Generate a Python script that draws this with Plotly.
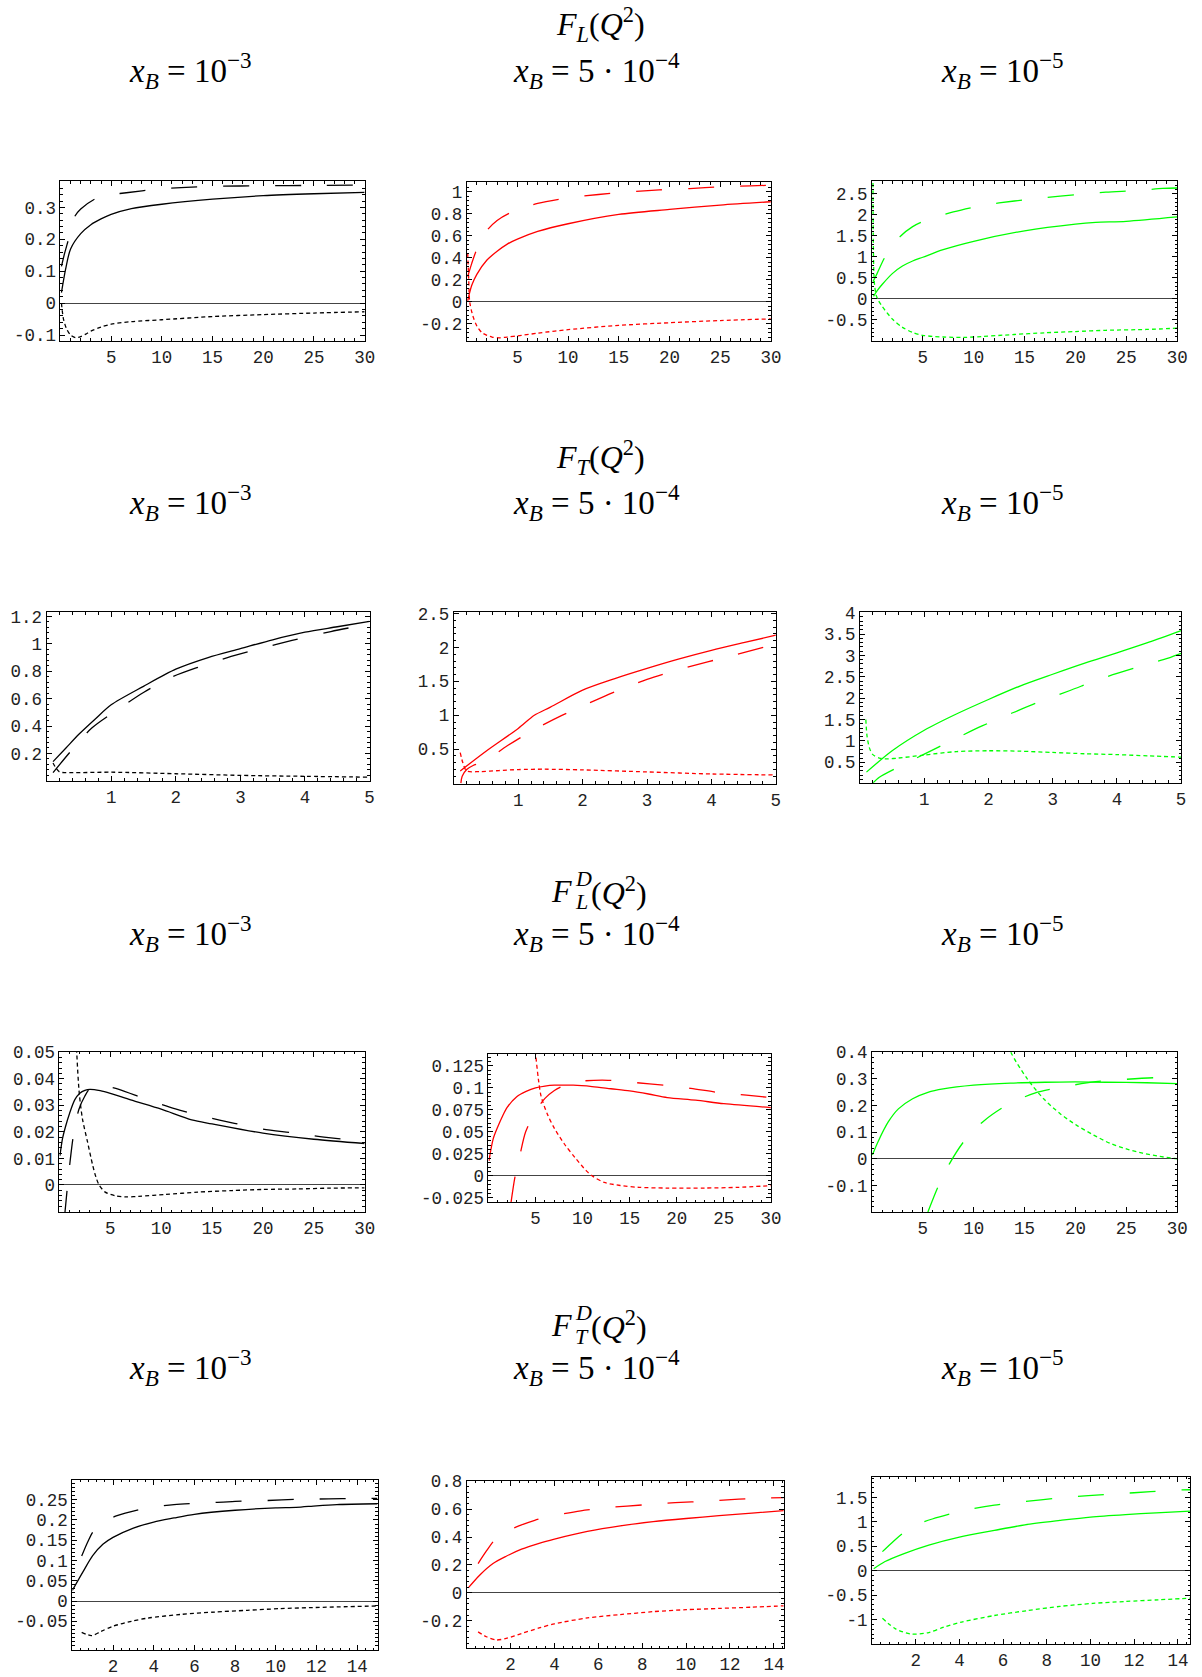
import plotly.graph_objects as go

W, H = 1202, 1677
BLACK, RED, GREEN = "#000000", "#FF0000", "#00FF00"

# ================= F_L(Q^2) =================
# x_B = 1e-3
FL_a_solid_x = [0.1, 0.5, 1, 2, 3, 4, 5, 7, 10, 15, 20, 25, 30]
FL_a_solid_y = [0.033, 0.105, 0.17, 0.218, 0.246, 0.264, 0.278, 0.296, 0.31, 0.326, 0.337, 0.343, 0.347]
FL_a_long_x = [0.1, 0.4, 0.75, 1.0, 1.4, 2, 3.5, 5, 6.5, 9.4, 12.4, 15, 20, 25, 30]
FL_a_long_y = [0.115, 0.155, 0.195, 0.224, 0.271, 0.295, 0.328, 0.34, 0.346, 0.357, 0.363, 0.366, 0.368, 0.369, 0.37]
FL_a_short_x = [0.1, 0.3, 0.6, 1, 1.5, 2, 2.5, 3, 4, 5, 7, 10, 15, 20, 25, 30]
FL_a_short_y = [0.0, -0.05, -0.08, -0.10, -0.108, -0.105, -0.097, -0.088, -0.075, -0.066, -0.058, -0.052, -0.042, -0.036, -0.031, -0.027]
# x_B = 5e-4
FL_b_solid_x = [0.1, 0.5, 1, 2, 3, 4, 5, 7, 10, 15, 20, 25, 30]
FL_b_solid_y = [0.01, 0.15, 0.25, 0.38, 0.46, 0.525, 0.57, 0.64, 0.71, 0.795, 0.84, 0.88, 0.91]
FL_b_long_x = [0.1, 0.5, 0.9, 1.5, 2, 3, 4.3, 5.5, 7, 10, 13, 16, 19, 22, 25, 28, 30]
FL_b_long_y = [0.23, 0.35, 0.455, 0.57, 0.65, 0.74, 0.81, 0.85, 0.895, 0.946, 0.976, 1.0, 1.018, 1.03, 1.045, 1.054, 1.06]
FL_b_short_x = [0.1, 0.2, 0.3, 0.6, 1, 1.5, 2, 2.5, 3.2, 4, 5, 7, 10, 15, 20, 25, 30]
FL_b_short_y = [0.44, 0.2, 0.0, -0.125, -0.22, -0.28, -0.305, -0.32, -0.327, -0.32, -0.31, -0.285, -0.253, -0.214, -0.19, -0.17, -0.155]
# x_B = 1e-5
FL_c_solid_x = [0.15, 0.5, 1, 2, 3, 4, 5, 7, 10, 15, 20, 22, 25, 30]
FL_c_solid_y = [0.06, 0.19, 0.34, 0.6, 0.78, 0.9, 0.99, 1.17, 1.37, 1.62, 1.78, 1.82, 1.845, 1.95]
FL_c_long_x = [0.1, 0.5, 1.2, 2, 2.8, 4, 5.2, 8, 11, 14, 17, 20, 23, 26, 28.6, 30]
FL_c_long_y = [0.41, 0.6, 0.96, 1.25, 1.49, 1.72, 1.86, 2.07, 2.23, 2.33, 2.41, 2.48, 2.54, 2.58, 2.63, 2.64]
FL_c_short_x = [0.1, 0.13, 0.18, 0.25, 0.4, 0.55, 1, 2, 3, 4, 5, 7, 9, 10, 14, 17, 20, 23, 27, 30]
FL_c_short_y = [2.76, 1.5, 0.7, 0.35, 0.1, 0.0, -0.18, -0.48, -0.68, -0.8, -0.87, -0.91, -0.92, -0.91, -0.85, -0.81, -0.78, -0.75, -0.73, -0.70]

# ================= F_T(Q^2) =================
FT_a_solid_x = [0.1, 0.3, 0.5, 0.75, 1, 1.5, 2, 2.5, 3, 3.5, 4, 4.5, 5]
FT_a_solid_y = [0.14, 0.24, 0.34, 0.45, 0.555, 0.69, 0.815, 0.9, 0.965, 1.03, 1.085, 1.125, 1.165]
FT_a_long_x = [0.1, 0.4, 0.7, 1.1, 1.5, 1.9, 2.35, 2.8, 3.3, 3.8, 4.4, 5]
FT_a_long_y = [0.06, 0.23, 0.385, 0.52, 0.645, 0.75, 0.83, 0.9, 0.965, 1.025, 1.09, 1.145]
FT_a_short_x = [0.1, 0.15, 0.2, 0.3, 1, 2, 3, 4, 5]
FT_a_short_y = [0.13, 0.09, 0.065, 0.06, 0.063, 0.052, 0.04, 0.033, 0.027]

FT_b_solid_x = [0.1, 0.5, 1, 1.25, 1.5, 2, 2.5, 3, 3.5, 4, 4.5, 5]
FT_b_solid_y = [0.18, 0.47, 0.806, 1.0, 1.12, 1.37, 1.54, 1.69, 1.83, 1.956, 2.07, 2.18]
FT_b_long_x = [0.11, 0.13, 0.2, 0.3, 0.45, 0.83, 1.23, 1.67, 2.1, 2.56, 3.0, 3.5, 4.4, 5]
FT_b_long_y = [0.0, 0.1, 0.2, 0.26, 0.306, 0.55, 0.78, 0.995, 1.18, 1.37, 1.53, 1.675, 1.9, 2.05]
FT_b_short_x = [0.1, 0.14, 0.2, 0.4, 0.7, 1, 1.4, 2, 3, 4, 5]
FT_b_short_y = [0.45, 0.3, 0.18, 0.17, 0.185, 0.2, 0.205, 0.195, 0.165, 0.135, 0.12]

FT_c_solid_x = [0.1, 0.5, 1, 1.5, 2, 2.5, 3, 3.5, 4, 4.5, 5]
FT_c_solid_y = [0.27, 0.77, 1.25, 1.63, 1.97, 2.29, 2.56, 2.82, 3.06, 3.31, 3.58]
FT_c_long_x = [0.19, 0.3, 0.59, 1.0, 1.47, 1.9, 2.35, 2.8, 3.27, 3.74, 4.33, 4.8, 5]
FT_c_long_y = [0.0, 0.15, 0.385, 0.69, 1.04, 1.35, 1.64, 1.92, 2.18, 2.45, 2.73, 2.94, 3.05]
FT_c_short_x = [0.09, 0.11, 0.15, 0.2, 0.3, 0.4, 0.6, 1, 1.5, 2, 2.5, 3, 3.5, 4, 4.5, 5]
FT_c_short_y = [1.5, 1.1, 0.82, 0.68, 0.6, 0.58, 0.6, 0.67, 0.75, 0.77, 0.76, 0.73, 0.7, 0.68, 0.65, 0.62]

# ================= F_L^D(Q^2) =================
FLD_a_solid_x = [0.05, 0.3, 0.6, 1, 1.5, 2, 2.5, 3, 4, 5, 7, 10, 13, 15, 20, 25, 30]
FLD_a_solid_y = [0.011, 0.0174, 0.022, 0.027, 0.032, 0.0345, 0.0356, 0.036, 0.0355, 0.0345, 0.032, 0.0285, 0.0245, 0.023, 0.0195, 0.0172, 0.0156]
FLD_a_long_x = [0.5, 0.8, 1.05, 1.37, 1.9, 2.5, 3.1, 4, 5, 5.85, 8.7, 11.4, 14.3, 17.2, 20, 23, 26, 29, 30]
FLD_a_long_y = [-0.012, 0.0, 0.009, 0.0186, 0.0283, 0.0335, 0.0367, 0.0372, 0.0368, 0.036, 0.032, 0.0286, 0.0257, 0.0232, 0.021, 0.0196, 0.018, 0.0168, 0.0165]
FLD_a_short_x = [1.5, 1.7, 1.95, 2.27, 2.76, 3.25, 3.6, 3.9, 4.5, 5.5, 6.5, 7.8, 10.4, 13.6, 17, 20, 23.4, 26.6, 30]
FLD_a_short_y = [0.075, 0.05, 0.0344, 0.0247, 0.0162, 0.0077, 0.0028, 0.0, -0.0027, -0.0041, -0.0045, -0.0043, -0.0036, -0.0027, -0.0021, -0.0017, -0.0015, -0.0012, -0.0011]

FLD_b_solid_x = [0.05, 0.5, 1, 1.5, 2, 3, 4, 5, 6, 7, 9, 11, 13, 15, 17, 19, 22, 25, 30]
FLD_b_solid_y = [0.017, 0.042, 0.056, 0.068, 0.078, 0.09, 0.096, 0.1, 0.102, 0.103, 0.103, 0.1015, 0.099, 0.0965, 0.093, 0.089, 0.086, 0.082, 0.0775]
FLD_b_long_x = [2.4, 2.8, 3.35, 3.95, 5.1, 6, 7, 8.3, 9.7, 12.7, 15.6, 18.6, 21.5, 24.4, 27.4, 30]
FLD_b_long_y = [-0.03, -0.002, 0.024, 0.05, 0.075, 0.088, 0.097, 0.104, 0.1075, 0.1086, 0.106, 0.103, 0.0993, 0.0948, 0.0918, 0.0888]
FLD_b_short_x = [4.9, 5.0, 5.3, 5.6, 6.3, 7, 8.1, 9.2, 10.4, 11, 12.3, 14, 16, 19, 23, 26.5, 30]
FLD_b_short_y = [0.15, 0.139, 0.11, 0.09, 0.069, 0.054, 0.0356, 0.0206, 0.0056, 0.0, -0.0075, -0.011, -0.0131, -0.0139, -0.0139, -0.0131, -0.0112]

FLD_c_solid_x = [0.05, 0.6, 1.6, 2.6, 4, 5.5, 7, 10, 13.6, 17, 20, 23, 27, 30]
FLD_c_solid_y = [0.015, 0.064, 0.138, 0.187, 0.225, 0.249, 0.262, 0.276, 0.284, 0.287, 0.288, 0.287, 0.285, 0.282]
FLD_c_long_x = [5.5, 6.5, 7.6, 9.1, 11, 13.3, 16, 19, 22, 25, 27.8, 30]
FLD_c_long_y = [-0.2, -0.105, -0.02, 0.068, 0.142, 0.202, 0.246, 0.271, 0.289, 0.298, 0.304, 0.305]
FLD_c_short_x = [13.3, 13.65, 15.3, 16.9, 18.5, 20.1, 21.8, 23.4, 25, 26.6, 28.3, 30]
FLD_c_short_y = [0.45, 0.4, 0.298, 0.224, 0.169, 0.126, 0.0886, 0.058, 0.037, 0.021, 0.0086, 0.0]

# ================= F_T^D(Q^2) =================
FTD_a_solid_x = [0.0, 0.5, 1, 1.5, 2, 3, 4, 5, 6, 8, 10, 11, 12, 13, 15]
FTD_a_solid_y = [0.026, 0.07, 0.112, 0.14, 0.157, 0.18, 0.195, 0.205, 0.214, 0.224, 0.23, 0.231, 0.235, 0.238, 0.24]
FTD_a_long_x = [0.46, 0.75, 1.03, 1.5, 2.16, 3.5, 5, 6.6, 8, 9.6, 11, 12.6, 14, 15]
FTD_a_long_y = [0.111, 0.145, 0.172, 0.193, 0.21, 0.228, 0.238, 0.242, 0.246, 0.248, 0.251, 0.252, 0.253, 0.253]
FTD_a_short_x = [0.46, 0.95, 1.4, 2, 2.9, 3.7, 5.3, 7, 8.6, 10.2, 11.8, 15]
FTD_a_short_y = [-0.077, -0.085, -0.075, -0.062, -0.05, -0.042, -0.033, -0.027, -0.0227, -0.0186, -0.016, -0.012]

FTD_b_solid_x = [0.07, 0.6, 1.2, 1.8, 2.5, 3.3, 4, 5.5, 7, 8.5, 10, 11.5, 13, 14.45]
FTD_b_solid_y = [0.035, 0.128, 0.21, 0.262, 0.313, 0.355, 0.385, 0.44, 0.48, 0.51, 0.533, 0.553, 0.571, 0.59]
FTD_b_long_x = [0.52, 0.9, 1.27, 1.8, 2.47, 3.1, 3.8, 5.2, 6.6, 8, 9.5, 11, 12.4, 13.8, 14.45]
FTD_b_long_y = [0.21, 0.3, 0.378, 0.44, 0.485, 0.52, 0.548, 0.588, 0.613, 0.63, 0.646, 0.658, 0.672, 0.681, 0.683]
FTD_b_short_x = [0.52, 0.9, 1.35, 1.8, 2.5, 3.3, 4, 5.5, 7, 8.5, 10, 11.5, 13, 14.45]
FTD_b_short_y = [-0.28, -0.315, -0.338, -0.327, -0.292, -0.252, -0.222, -0.18, -0.156, -0.135, -0.121, -0.112, -0.103, -0.093]

FTD_c_solid_x = [0.08, 0.6, 1.5, 2.6, 4, 5.6, 7, 8.6, 10, 11.6, 13, 14.55]
FTD_c_solid_y = [0.04, 0.188, 0.356, 0.525, 0.69, 0.827, 0.94, 1.03, 1.1, 1.15, 1.185, 1.22]
FTD_c_long_x = [0.48, 1.0, 1.5, 2.1, 2.76, 4.15, 5.6, 7, 8.45, 9.9, 11.3, 12.75, 13.6, 14.55]
FTD_c_long_y = [0.39, 0.61, 0.794, 0.95, 1.06, 1.23, 1.345, 1.42, 1.486, 1.54, 1.58, 1.62, 1.65, 1.66]
FTD_c_short_x = [0.48, 1.06, 1.8, 2.6, 3.3, 4.1, 5.6, 7.1, 8.6, 10.1, 11.6, 13.1, 14.55]
FTD_c_short_y = [-0.975, -1.19, -1.3, -1.27, -1.157, -1.056, -0.92, -0.82, -0.733, -0.672, -0.632, -0.598, -0.565]

# ---------- axis tick values ----------
yt_FL_a = [-0.1, 0, 0.1, 0.2, 0.3]
yt_FL_b = [-0.2, 0, 0.2, 0.4, 0.6, 0.8, 1]
yt_FL_c = [-0.5, 0, 0.5, 1, 1.5, 2, 2.5]
yt_FT_a = [0.2, 0.4, 0.6, 0.8, 1, 1.2]
yt_FT_b = [0.5, 1, 1.5, 2, 2.5]
yt_FT_c = [0.5, 1, 1.5, 2, 2.5, 3, 3.5, 4]
yt_FLD_a = [0, 0.01, 0.02, 0.03, 0.04, 0.05]
yt_FLD_b = [-0.025, 0, 0.025, 0.05, 0.075, 0.1, 0.125]
yt_FLD_c = [-0.1, 0, 0.1, 0.2, 0.3, 0.4]
yt_FTD_a = [-0.05, 0, 0.05, 0.1, 0.15, 0.2, 0.25]
yt_FTD_b = [-0.2, 0, 0.2, 0.4, 0.6, 0.8]
yt_FTD_c = [-1, -0.5, 0, 0.5, 1, 1.5]
xt_30 = [5, 10, 15, 20, 25, 30]
xt_5 = [1, 2, 3, 4, 5]
xt_14 = [2, 4, 6, 8, 10, 12, 14]

row_titles = ["<i>F</i><sub><i>L</i></sub>(<i>Q</i><sup>2</sup>)",
              "<i>F</i><sub><i>T</i></sub>(<i>Q</i><sup>2</sup>)",
              "<i>D</i>", "<i>D</i>"]
xb_labels = ["<i>x</i><sub><i>B</i></sub> = 10<sup>\u22123</sup>",
             "<i>x</i><sub><i>B</i></sub> = 5 \u00b7 10<sup>\u22124</sup>",
             "<i>x</i><sub><i>B</i></sub> = 10<sup>\u22125</sup>"]

# ---------- panel layout (pixel boxes: left, top, right, bottom) ----------
panels = [
    dict(box=(61, 175, 368, 337), xr=[0, 30], yr=[-0.118, 0.382], xt=xt_30, yt=yt_FL_a, c=BLACK,
         cur=[(FL_a_solid_x, FL_a_solid_y), (FL_a_long_x, FL_a_long_y), (FL_a_short_x, FL_a_short_y)], zl=True),
    dict(box=(471, 176, 778, 337), xr=[0, 30], yr=[-0.354, 1.087], xt=xt_30, yt=yt_FL_b, c=RED,
         cur=[(FL_b_solid_x, FL_b_solid_y), (FL_b_long_x, FL_b_long_y), (FL_b_short_x, FL_b_short_y)], zl=True),
    dict(box=(880, 175, 1188, 337), xr=[0, 30], yr=[-1.0, 2.8], xt=xt_30, yt=yt_FL_c, c=GREEN,
         cur=[(FL_c_solid_x, FL_c_solid_y), (FL_c_long_x, FL_c_long_y), (FL_c_short_x, FL_c_short_y)], zl=True),
    dict(box=(47, 613, 373, 784), xr=[0, 5], yr=[0.0, 1.229], xt=xt_5, yt=yt_FT_a, c=BLACK,
         cur=[(FT_a_solid_x, FT_a_solid_y), (FT_a_long_x, FT_a_long_y), (FT_a_short_x, FT_a_short_y)], zl=False),
    dict(box=(458, 613, 783, 787), xr=[0, 5], yr=[-0.01, 2.515], xt=xt_5, yt=yt_FT_b, c=RED,
         cur=[(FT_b_solid_x, FT_b_solid_y), (FT_b_long_x, FT_b_long_y), (FT_b_short_x, FT_b_short_y)], zl=False),
    dict(box=(868, 613, 1192, 786), xr=[0, 5], yr=[0.02, 4.005], xt=xt_5, yt=yt_FT_c, c=GREEN,
         cur=[(FT_c_solid_x, FT_c_solid_y), (FT_c_long_x, FT_c_long_y), (FT_c_short_x, FT_c_short_y)], zl=False),
    dict(box=(60, 1059, 368, 1222), xr=[0, 30], yr=[-0.0102, 0.0502], xt=xt_30, yt=yt_FLD_a, c=BLACK,
         cur=[(FLD_a_solid_x, FLD_a_solid_y), (FLD_a_long_x, FLD_a_long_y), (FLD_a_short_x, FLD_a_short_y)], zl=True),
    dict(box=(493, 1061, 778, 1212), xr=[0, 30], yr=[-0.030, 0.139], xt=xt_30, yt=yt_FLD_b, c=RED,
         cur=[(FLD_b_solid_x, FLD_b_solid_y), (FLD_b_long_x, FLD_b_long_y), (FLD_b_short_x, FLD_b_short_y)], zl=True),
    dict(box=(880, 1059, 1188, 1222), xr=[0, 30], yr=[-0.2, 0.402], xt=xt_30, yt=yt_FLD_c, c=GREEN,
         cur=[(FLD_c_solid_x, FLD_c_solid_y), (FLD_c_long_x, FLD_c_long_y), (FLD_c_short_x, FLD_c_short_y)], zl=True),
    dict(box=(73, 1494, 381, 1667), xr=[0, 15], yr=[-0.121, 0.299], xt=xt_14, yt=yt_FTD_a, c=BLACK,
         cur=[(FTD_a_solid_x, FTD_a_solid_y), (FTD_a_long_x, FTD_a_long_y), (FTD_a_short_x, FTD_a_short_y)], zl=True),
    dict(box=(471, 1495, 791, 1665), xr=[0, 14.45], yr=[-0.397, 0.803], xt=xt_14, yt=yt_FTD_b, c=RED,
         cur=[(FTD_b_solid_x, FTD_b_solid_y), (FTD_b_long_x, FTD_b_long_y), (FTD_b_short_x, FTD_b_short_y)], zl=True),
    dict(box=(880, 1491, 1201, 1661), xr=[0, 14.55], yr=[-1.51, 1.924], xt=xt_14, yt=yt_FTD_c, c=GREEN,
         cur=[(FTD_c_solid_x, FTD_c_solid_y), (FTD_c_long_x, FTD_c_long_y), (FTD_c_short_x, FTD_c_short_y)], zl=True),
]

DASHES = ["solid", "26px,26px", "4px,3px"]
TICKFONT = dict(family="Liberation Mono", size=17.5, color="#222222")


def fmt(v):
    return "{:g}".format(v)


fig = go.Figure()
for i, p in enumerate(panels, start=1):
    s = "" if i == 1 else str(i)
    x0, y0, x1, y1 = p["box"]
    xstep = p["xt"][1] - p["xt"][0]
    ystep = p["yt"][1] - p["yt"][0]
    common = dict(showline=True, linecolor="black", linewidth=1, mirror="allticks",
                  ticks="inside", ticklen=5, tickwidth=1, tickcolor="black",
                  showgrid=False, tickfont=TICKFONT, tickmode="array")
    fig.update_layout(**{
        "xaxis" + s: dict(common, domain=[x0 / W, x1 / W], range=p["xr"], anchor="y" + s,
                          tickvals=p["xt"], ticktext=[fmt(v) for v in p["xt"]], zeroline=False,
                          minor=dict(tickmode="linear", tick0=0, dtick=xstep / 5, ticks="inside",
                                     ticklen=2.5, tickcolor="black", showgrid=False)),
        "yaxis" + s: dict(common, domain=[1 - y1 / H, 1 - y0 / H], range=p["yr"], anchor="x" + s,
                          tickvals=p["yt"], ticktext=[fmt(v) for v in p["yt"]],
                          zeroline=p["zl"], zerolinecolor="#444444", zerolinewidth=1,
                          minor=dict(tickmode="linear", tick0=0, dtick=ystep / 5, ticks="inside",
                                     ticklen=2.5, tickcolor="black", showgrid=False)),
    })
    for (xs, ys), dash in zip(p["cur"], DASHES):
        fig.add_trace(go.Scatter(x=xs, y=ys, mode="lines", xaxis="x" + s, yaxis="y" + s,
                                 line=dict(color=p["c"], width=1.3, dash=dash, shape="spline", smoothing=0.8),
                                 showlegend=False, hoverinfo="skip"))

SERIF = "Liberation Serif"
ann = []


def text(px, py, t, size=32, xanchor="center"):
    ann.append(dict(x=px / W, y=1 - py / H, xref="paper", yref="paper", text=t, showarrow=False,
                    xanchor=xanchor, yanchor="middle", font=dict(family=SERIF, size=size, color="black")))


title_y = [16, 456, 894, 1335]
xb_y = [62, 501, 939, 1380]
xb_x = [192, 602, 1011]
for r in range(4):
    if r < 2:
        text(606, title_y[r], row_titles[r], size=32)
    else:
        sub = "<i>L</i>" if r == 2 else "<i>T</i>"
        text(579, title_y[r] + 2, "<i>F</i>", size=32, xanchor="right")
        text(578, title_y[r] - 11, row_titles[r], size=22, xanchor="left")
        text(578, title_y[r] + 13, sub, size=22, xanchor="left")
        text(594, title_y[r] + 2, "(<i>Q</i><sup>2</sup>)", size=32, xanchor="left")
    for c in range(3):
        text(xb_x[c], xb_y[r], xb_labels[c], size=33)

fig.update_layout(width=W, height=H, margin=dict(l=0, r=0, t=0, b=0),
                  paper_bgcolor="white", plot_bgcolor="white", annotations=ann)

fig.write_html("out.html", config={"displayModeBar": False},
               post_script="document.body.style.margin='0';")
